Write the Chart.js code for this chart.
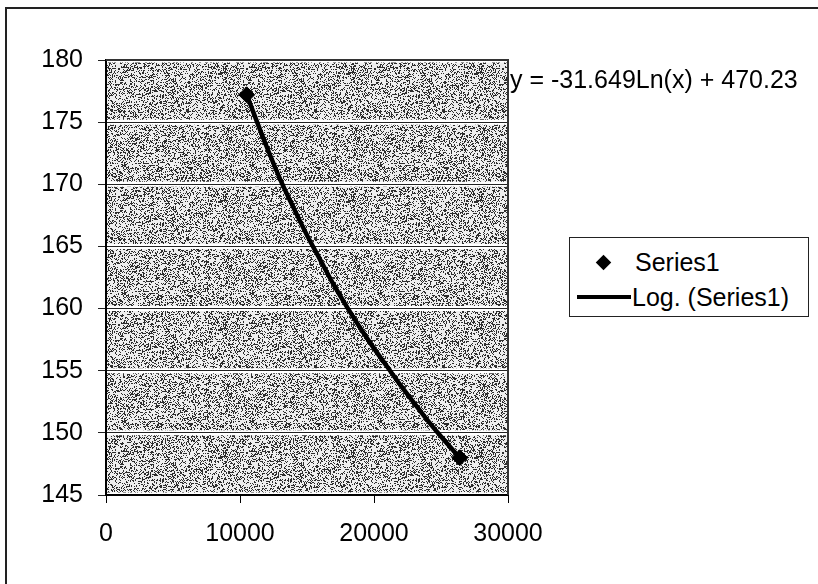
<!DOCTYPE html>
<html>
<head>
<meta charset="utf-8">
<script src="https://cdn.jsdelivr.net/npm/chart.js@4/dist/chart.umd.min.js"></script>
<style>
  html,body{margin:0;padding:0;background:#fff;}
  #wrap{position:relative;width:818px;height:584px;overflow:hidden;font-family:"Liberation Sans",Arial,sans-serif;}
  #frame{position:absolute;left:5px;top:7px;width:900px;height:700px;border-left:2px solid #222;border-top:2px solid #222;}
  canvas{position:absolute;left:0;top:0;}
  #eq{position:absolute;left:510px;top:64px;font-size:25px;line-height:30px;color:#000;white-space:nowrap;}
  #legend{position:absolute;left:569px;top:237px;width:238px;height:78px;border:1.5px solid #222;background:#fff;}
  .row{position:absolute;left:0;font-size:25px;line-height:30px;white-space:nowrap;}
  .dia{position:absolute;width:11px;height:11px;background:#000;transform:rotate(45deg);}
  .ln{position:absolute;height:4px;background:#000;}
</style>
</head>
<body>
<div id="wrap">
  <div id="frame"></div>
  <canvas id="c" width="818" height="584"></canvas>
  <div id="eq">y = -31.649Ln(x) + 470.23</div>
  <div id="legend">
    <div class="dia" style="left:28px;top:19px"></div>
    <div class="row" style="left:65px;top:9px">Series1</div>
    <div class="ln" style="left:7px;top:57px;width:54px"></div>
    <div class="row" style="left:62px;top:44px">Log. (Series1)</div>
  </div>
</div>
<script>
// observed points
const ptX=[10500,26400];
const ptY=[177.2,148.0];
// log trendline
const trendX=[10500,12000,13000,14000,15000,16000,17000,18000,19000,20000,21000,22000,23000,24000,25000,26400];
const trendY=[177.2,173.0,170.4,168.1,165.9,163.9,161.9,160.1,158.4,156.8,155.3,153.8,152.4,151.0,149.7,148.0];
const X_MIN=0, X_MAX=30000, X_STEP=10000;
const Y_MIN=145, Y_MAX=180, Y_STEP=5;

const FONT={family:'"Liberation Sans", Arial, sans-serif',size:25};

// stippled grey fill like the scanned plot area (fixed hash, not data)
function stipple(){
  const n=128, cv=document.createElement('canvas'); cv.width=cv.height=n;
  const g=cv.getContext('2d'), img=g.createImageData(n,n);
  for(let i=0;i<n*n;i++){
    let h=Math.imul(i+1,0x9E3779B1); h^=h>>>16; h=Math.imul(h,0x85EBCA6B); h^=h>>>13;
    h=Math.imul(h,0xC2B2AE35); h^=h>>>16;
    const v=((h>>>0)%1000)/1000<0.32?45:238;
    img.data[i*4]=img.data[i*4+1]=img.data[i*4+2]=v; img.data[i*4+3]=255;
  }
  g.putImageData(img,0,0);
  return g.createPattern(cv,'repeat');
}

const plotBg={id:'plotBg',
  beforeDraw(c){
    const {ctx,chartArea:a}=c, y=c.scales.y;
    ctx.save();
    ctx.fillStyle=stipple(); ctx.fillRect(a.left,a.top,a.width,a.height);
    ctx.strokeStyle='#fff'; ctx.lineWidth=5;
    y.ticks.forEach(t=>{const py=y.getPixelForValue(t.value);
      ctx.beginPath();ctx.moveTo(a.left,py);ctx.lineTo(a.right,py);ctx.stroke();});
    ctx.restore();
  },
  afterDraw(c){
    const {ctx,chartArea:a}=c;
    ctx.save(); ctx.strokeStyle='#333'; ctx.lineWidth=2;
    ctx.beginPath(); ctx.moveTo(a.left,a.top); ctx.lineTo(a.right,a.top); ctx.lineTo(a.right,a.bottom); ctx.stroke();
    ctx.restore();
  }};

const pts=ptX.map((x,i)=>({x,y:ptY[i]}));
const trend=trendX.map((x,i)=>({x,y:trendY[i]}));

new Chart(document.getElementById('c'),{
  type:'scatter',
  data:{datasets:[
    {label:'Log. (Series1)',data:trend,showLine:true,borderColor:'#000',borderWidth:4.5,
     pointRadius:0,cubicInterpolationMode:'monotone',order:2},
    {label:'Series1',data:pts,pointStyle:'rectRot',pointRadius:8,backgroundColor:'#000',borderColor:'#000',order:1}
  ]},
  options:{
    responsive:false,animation:false,devicePixelRatio:1,
    layout:{padding:{top:60,right:310,left:0,bottom:0}},
    plugins:{legend:{display:false},tooltip:{enabled:false}},
    scales:{
      x:{type:'linear',min:X_MIN,max:X_MAX,
        ticks:{stepSize:X_STEP,color:'#000',font:FONT,padding:16,callback:v=>String(v)},
        grid:{drawOnChartArea:false,color:'#000',tickLength:8},
        border:{color:'#000',width:2},
        afterFit(s){s.height=89;}},
      y:{min:Y_MIN,max:Y_MAX,
        ticks:{stepSize:Y_STEP,color:'#000',font:FONT,padding:15,callback:v=>String(v)},
        grid:{color:'#222',lineWidth:1,tickLength:8},
        border:{color:'#000',width:2},
        afterFit(s){s.width=106;}}
    }
  },
  plugins:[plotBg]
});
</script>
</body>
</html>
